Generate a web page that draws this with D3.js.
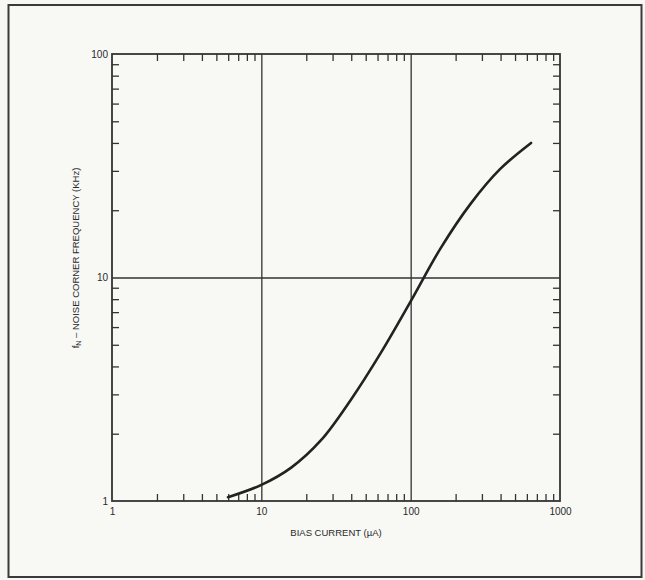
<!DOCTYPE html>
<html>
<head>
<meta charset="utf-8">
<script src="https://cdn.jsdelivr.net/npm/d3@7"></script>
<style>
  body { margin: 0; background: #f7f7f4; }
  svg { display: block; }
  text { font-family: "Liberation Sans", Arial, sans-serif; fill: #2a2a2a; }
</style>
</head>
<body>
<script>
// bias current (uA) vs noise corner frequency (kHz)
const biasCurrent = [5.98, 10, 15.85, 25.1, 39.8, 63.1, 100, 158.5, 251, 398, 640];
const cornerFreq  = [1.04, 1.18, 1.41, 1.87, 2.84, 4.60, 7.82, 13.5, 21.3, 30.6, 40.0];

const xMajor = [1, 10, 100, 1000];
const yMajor = [1, 10, 100];
const xGrid = [10, 100];
const yGrid = [10];
const xLabel = 'BIAS CURRENT (\u00b5A)';
const yLabel = ' \u2013 NOISE CORNER FREQUENCY (KHz)';

const W = 645, H = 580;
const plot = { left: 112, right: 560, top: 54, bottom: 501 };
const tickLen = 7;

const svg = d3.select('body').append('svg')
  .attr('width', W)
  .attr('height', H);

// outer frame
svg.append('rect')
  .attr('x', 8.5).attr('y', 5)
  .attr('width', 633).attr('height', 572)
  .attr('fill', '#f8f8f5')
  .attr('stroke', '#3a3a3a')
  .attr('stroke-width', 2);

const xScale = d3.scaleLog().domain([1, 1000]).range([plot.left, plot.right]);
const yScale = d3.scaleLog().domain([1, 100]).range([plot.bottom, plot.top]);

function minors(majors) {
  const out = [];
  for (let i = 0; i < majors.length - 1; i++) {
    for (let k = 2; k <= 9; k++) out.push(majors[i] * k);
  }
  return out;
}

function strokeAxis(g) {
  g.select('.domain').remove();
  g.selectAll('line').attr('stroke', '#333').attr('stroke-width', 1.3);
}

// grid lines
svg.append('g')
  .attr('transform', 'translate(0,' + plot.bottom + ')')
  .call(d3.axisBottom(xScale).tickValues(xGrid).tickSize(-(plot.bottom - plot.top)).tickFormat(''))
  .call(strokeAxis);

svg.append('g')
  .attr('transform', 'translate(' + plot.left + ',0)')
  .call(d3.axisLeft(yScale).tickValues(yGrid).tickSize(-(plot.right - plot.left)).tickFormat(''))
  .call(strokeAxis);

// inward minor ticks on all four sides
svg.append('g')
  .attr('transform', 'translate(0,' + plot.bottom + ')')
  .call(d3.axisBottom(xScale).tickValues(minors(xMajor)).tickSize(-tickLen).tickFormat(''))
  .call(strokeAxis);
svg.append('g')
  .attr('transform', 'translate(0,' + plot.top + ')')
  .call(d3.axisTop(xScale).tickValues(minors(xMajor)).tickSize(-tickLen).tickFormat(''))
  .call(strokeAxis);
svg.append('g')
  .attr('transform', 'translate(' + plot.left + ',0)')
  .call(d3.axisLeft(yScale).tickValues(minors(yMajor)).tickSize(-tickLen).tickFormat(''))
  .call(strokeAxis);
svg.append('g')
  .attr('transform', 'translate(' + plot.right + ',0)')
  .call(d3.axisRight(yScale).tickValues(minors(yMajor)).tickSize(-tickLen).tickFormat(''))
  .call(strokeAxis);

// plot border
svg.append('rect')
  .attr('x', plot.left).attr('y', plot.top)
  .attr('width', plot.right - plot.left).attr('height', plot.bottom - plot.top)
  .attr('fill', 'none')
  .attr('stroke', '#333')
  .attr('stroke-width', 1.8);

// major labels
svg.append('g')
  .attr('transform', 'translate(0,' + plot.bottom + ')')
  .call(d3.axisBottom(xScale).tickValues(xMajor).tickSize(0).tickPadding(7).tickFormat(d3.format('d')))
  .call(g => g.select('.domain').remove())
  .call(g => g.selectAll('text').attr('font-size', 10).attr('fill', '#222'));

svg.append('g')
  .attr('transform', 'translate(' + plot.left + ',0)')
  .call(d3.axisLeft(yScale).tickValues(yMajor).tickSize(0).tickPadding(4).tickFormat(d3.format('d')))
  .call(g => g.select('.domain').remove())
  .call(g => g.selectAll('text').attr('font-size', 10).attr('fill', '#222'));

// axis titles
svg.append('text')
  .attr('x', (plot.left + plot.right) / 2)
  .attr('y', 536)
  .attr('text-anchor', 'middle')
  .attr('font-size', 9.5)
  .text(xLabel);

const yt = svg.append('text')
  .attr('transform', 'translate(79,258) rotate(-90)')
  .attr('text-anchor', 'middle')
  .attr('font-size', 9.5);
yt.append('tspan').text('f');
yt.append('tspan').attr('font-size', 7).attr('dy', 2).text('N');
yt.append('tspan').attr('dy', -2).text(yLabel);

// curve
const line = d3.line()
  .x((d, i) => xScale(biasCurrent[i]))
  .y(d => yScale(d))
  .curve(d3.curveCatmullRom.alpha(0.5));

svg.append('path')
  .datum(cornerFreq)
  .attr('d', line)
  .attr('fill', 'none')
  .attr('stroke', '#222')
  .attr('stroke-width', 2.6)
  .attr('stroke-linecap', 'round');
</script>
</body>
</html>
